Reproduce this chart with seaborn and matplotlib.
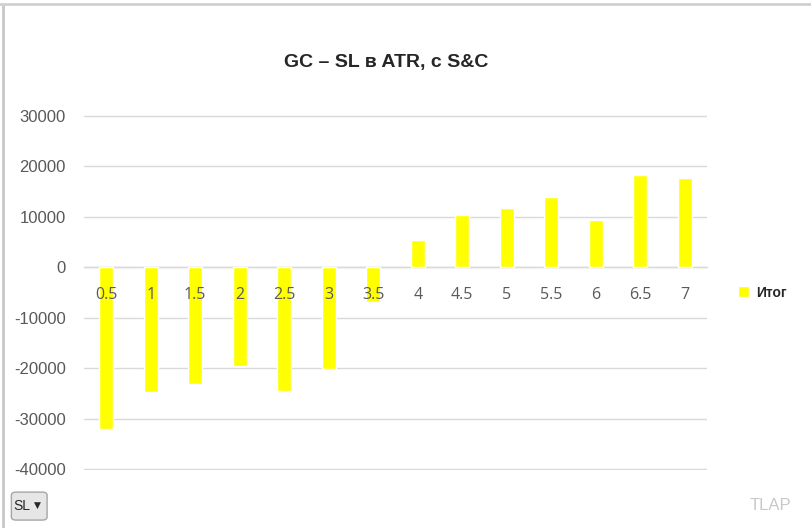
import matplotlib
matplotlib.use("Agg")
import matplotlib.pyplot as plt
import seaborn as sns
import pandas as pd
from matplotlib.patches import FancyBboxPatch

# data
sl_levels = ["0.5", "1", "1.5", "2", "2.5", "3", "3.5",
             "4", "4.5", "5", "5.5", "6", "6.5", "7"]
totals = [-32000, -24700, -23200, -19600, -24500, -20200, -6800,
          5400, 10400, 11700, 13900, 9300, 18400, 17800]
y_ticks = [-40000, -30000, -20000, -10000, 0, 10000, 20000, 30000]

df = pd.DataFrame({"SL": sl_levels, "Итог": totals})

sns.set_theme(style="white")
plt.rcParams['font.family'] = ['Liberation Sans', 'DejaVu Sans']

fig = plt.figure(figsize=(8.12, 5.28), dpi=100)
ax = fig.add_axes([0.1034, 0.1098, 0.7673, 0.6724])

sns.barplot(data=df, x="SL", y="Итог", color="#FFFF00", saturation=1,
            width=0.32, ax=ax, label="Итог")

ax.set_ylim(-40200, 30200)
ax.set_xlim(-0.5, len(sl_levels) - 0.5)
ax.set_yticks(y_ticks)
ax.set_yticklabels([str(v) for v in y_ticks])
ax.yaxis.grid(True, color="#D9D9D9", linewidth=1)
ax.set_axisbelow(True)
# category labels sit on top of the bars, as in Excel
ax.xaxis.set_zorder(3)

for s in ["top", "right", "left"]:
    ax.spines[s].set_visible(False)
ax.spines["bottom"].set_position(("data", 0))
ax.spines["bottom"].set_color("#D9D9D9")
ax.spines["bottom"].set_linewidth(1)
ax.spines["bottom"].set_zorder(0.6)

ax.tick_params(axis="y", length=0, pad=13, labelsize=12, labelcolor="#595959")
ax.tick_params(axis="x", length=0, pad=14, labelsize=11.5, labelcolor="#595959")
for lbl in ax.get_xticklabels():
    lbl.set_family(["Open Sans", "DejaVu Sans"])
ax.set_xlabel("")
ax.set_ylabel("")

fig.text(0.475, 0.882, "GC – SL в ATR, с S&C", ha="center", va="center",
         fontsize=14, fontweight="bold", color="#262626",
         family=["Liberation Sans Narrow", "Liberation Sans", "DejaVu Sans"])

leg = ax.legend(loc="center left", bbox_to_anchor=(1.03, 0.50), frameon=False,
                handlelength=0.8, handleheight=0.8, handletextpad=0.5,
                prop={"size": 10, "weight": "bold"})

# pivot field button and watermark
btn = FancyBboxPatch((0.016, 0.017), 0.040, 0.049, boxstyle="round,pad=0.002,rounding_size=0.006",
                     transform=fig.transFigure, facecolor="#E6E6E6", edgecolor="#A6A6A6",
                     linewidth=1)
fig.patches.append(btn)
fig.text(0.027, 0.042, "SL", fontsize=10, color="#262626", va="center", ha="center",
         family=["Liberation Sans Narrow", "Liberation Sans"])
fig.text(0.046, 0.042, "▼", fontsize=6.5, color="#262626", va="center", ha="center",
         family=["DejaVu Sans"])
fig.text(0.975, 0.042, "TLAP", fontsize=12, color="#C8C8C8", va="center", ha="right")

# sheet border lines
fig.add_artist(plt.Line2D([0.004, 0.004], [0, 0.99], transform=fig.transFigure,
                          color="#C8C8C8", linewidth=2))
fig.add_artist(plt.Line2D([0, 1], [0.993, 0.993], transform=fig.transFigure,
                          color="#D0D0D0", linewidth=2))

fig.savefig("out.png", dpi=100)
